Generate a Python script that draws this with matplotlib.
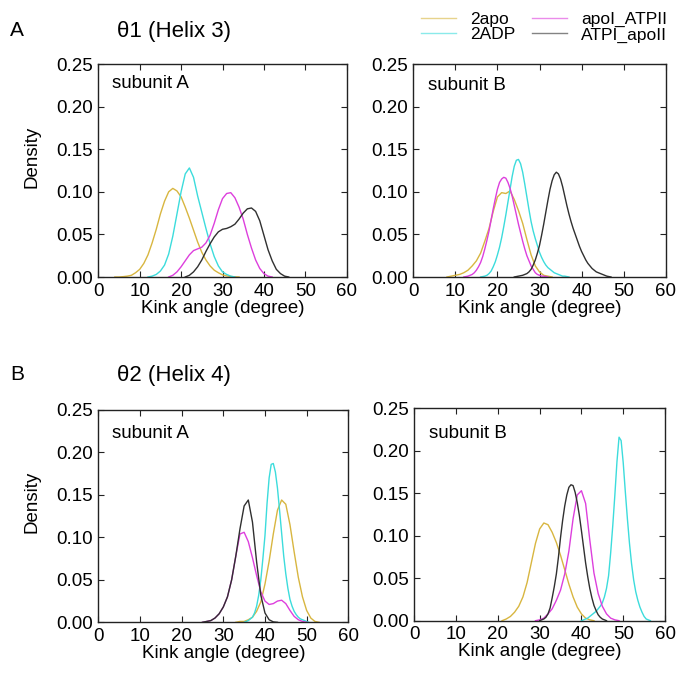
import numpy as np
import matplotlib
matplotlib.use("Agg")
import matplotlib.pyplot as plt
from matplotlib.lines import Line2D

plt.rcParams['font.family'] = ['Liberation Sans', 'DejaVu Sans']

# ---------------- data ----------------
series_names = ['2apo', '2ADP', 'apoI_ATPII', 'ATPI_apoII']
series_colors = ['#D8B640', '#3CDCDC', '#DD3FDD', '#303030']
x_ticks = [0, 10, 20, 30, 40, 50, 60]
y_ticks = [0.00, 0.05, 0.10, 0.15, 0.20, 0.25]
y_tick_labels = ['0.00', '0.05', '0.10', '0.15', '0.20', '0.25']
panel_labels = ['subunit A', 'subunit B', 'subunit A', 'subunit B']
row_letters = ['A', 'B']
row_titles = ['θ1 (Helix 3)', 'θ2 (Helix 4)']

# each curve: (start angle, step, density values)
# theta1, subunit A
tl_2apo = (4, 1, [0, 0, 0.0004, 0.001, 0.002, 0.005, 0.009, 0.016, 0.026, 0.040, 0.056,
                  0.074, 0.089, 0.100, 0.104, 0.101, 0.094, 0.082, 0.069, 0.055, 0.041,
                  0.029, 0.020, 0.013, 0.008, 0.005, 0.0025, 0.0013, 0.0006, 0.0002, 0])
tl_2adp = (12, 1, [0, 0.001, 0.003, 0.007, 0.014, 0.027, 0.048, 0.074, 0.100, 0.121, 0.128,
                   0.117, 0.095, 0.076, 0.057, 0.039, 0.024, 0.013, 0.006, 0.003, 0.001, 0])
tl_apoatp = (17, 1, [0, 0.002, 0.006, 0.012, 0.019, 0.026, 0.031, 0.033, 0.035, 0.040, 0.049,
                     0.063, 0.079, 0.092, 0.098, 0.099, 0.093, 0.082, 0.068, 0.050, 0.034,
                     0.020, 0.010, 0.004, 0.001, 0])
tl_atpapo = (21, 1, [0, 0.002, 0.006, 0.012, 0.020, 0.030, 0.039, 0.047, 0.053, 0.056, 0.057,
                     0.059, 0.062, 0.068, 0.075, 0.080, 0.081, 0.077, 0.066, 0.049, 0.032,
                     0.019, 0.009, 0.004, 0.001, 0])
# theta1, subunit B
tr_2apo = (8, 1, [0, 0.001, 0.002, 0.003, 0.005, 0.008, 0.013, 0.019, 0.028, 0.042, 0.057,
                  0.077, 0.094, 0.099, 0.098, 0.101, 0.091, 0.078, 0.063, 0.044, 0.026,
                  0.013, 0.006, 0.002, 0.001, 0])
tr_2adp = (16, 0.5, [0, 0.0005, 0.001, 0.002, 0.004, 0.007, 0.012, 0.018, 0.026, 0.035,
                     0.046, 0.059, 0.073, 0.088, 0.103, 0.118, 0.130, 0.137, 0.138, 0.133,
                     0.123, 0.109, 0.094, 0.079, 0.065, 0.054, 0.045, 0.037, 0.029, 0.023,
                     0.018, 0.014, 0.011, 0.009, 0.007, 0.005, 0.004, 0.003, 0.002, 0.001,
                     0.001, 0.0005, 0])
tr_apoatp = (12, 0.5, [0, 0.0005, 0.001, 0.002, 0.003, 0.005, 0.008, 0.012, 0.017, 0.024,
                       0.033, 0.043, 0.054, 0.067, 0.080, 0.092, 0.103, 0.111, 0.115, 0.117,
                       0.116, 0.111, 0.104, 0.095, 0.084, 0.073, 0.062, 0.052, 0.042, 0.033,
                       0.025, 0.019, 0.013, 0.009, 0.005, 0.003, 0.002, 0.001, 0.001, 0.0005,
                       0])
tr_atpapo = (24, 0.5, [0, 0.0005, 0.001, 0.0015, 0.002, 0.003, 0.004, 0.006, 0.009, 0.014,
                       0.020, 0.028, 0.037, 0.049, 0.062, 0.076, 0.090, 0.103, 0.113, 0.120,
                       0.123, 0.121, 0.115, 0.106, 0.095, 0.084, 0.074, 0.065, 0.057, 0.050,
                       0.043, 0.036, 0.030, 0.025, 0.020, 0.016, 0.013, 0.010, 0.008, 0.006,
                       0.005, 0.004, 0.003, 0.002, 0.001, 0.0005, 0])
# theta2, subunit A
bl_2apo = (33, 1, [0, 0.001, 0.001, 0.003, 0.006, 0.013, 0.024, 0.045, 0.072, 0.104, 0.132,
                   0.144, 0.139, 0.115, 0.083, 0.053, 0.030, 0.014, 0.005, 0.001, 0])
bl_2adp = (35, 0.5, [0, 0.001, 0.002, 0.004, 0.006, 0.011, 0.019, 0.032, 0.050, 0.075, 0.102,
                     0.140, 0.170, 0.186, 0.187, 0.177, 0.158, 0.132, 0.105, 0.078, 0.057,
                     0.040, 0.027, 0.019, 0.013, 0.009, 0.006, 0.004, 0.003, 0.002, 0.001, 0])
bl_apoatp = (25, 1, [0, 0.001, 0.002, 0.005, 0.010, 0.018, 0.030, 0.050, 0.078, 0.104, 0.106,
                     0.095, 0.076, 0.055, 0.036, 0.025, 0.021, 0.022, 0.025, 0.026, 0.022,
                     0.014, 0.007, 0.003, 0.001, 0])
bl_atpapo = (25, 1, [0, 0.001, 0.002, 0.005, 0.010, 0.018, 0.030, 0.050, 0.078, 0.110, 0.137,
                     0.144, 0.118, 0.071, 0.032, 0.011, 0.003, 0.0005, 0])
# theta2, subunit B
br_2apo = (21, 1, [0, 0.002, 0.005, 0.010, 0.017, 0.028, 0.045, 0.068, 0.091, 0.108, 0.115,
                   0.113, 0.104, 0.092, 0.077, 0.060, 0.043, 0.028, 0.016, 0.008, 0.003,
                   0.001, 0])
br_2adp = (40, 0.5, [0, 0.001, 0.002, 0.003, 0.005, 0.007, 0.009, 0.011, 0.014, 0.017, 0.021,
                     0.028, 0.038, 0.053, 0.080, 0.112, 0.148, 0.187, 0.216, 0.212, 0.186,
                     0.152, 0.120, 0.091, 0.067, 0.048, 0.034, 0.024, 0.016, 0.010, 0.005,
                     0.002, 0.001, 0])
br_apoatp = (29, 1, [0, 0.001, 0.003, 0.008, 0.014, 0.024, 0.036, 0.055, 0.082, 0.120, 0.148,
                     0.153, 0.138, 0.095, 0.056, 0.032, 0.017, 0.008, 0.003, 0.001, 0])
br_atpapo = (30, 0.5, [0, 0.001, 0.002, 0.004, 0.008, 0.015, 0.027, 0.040, 0.055, 0.075,
                       0.098, 0.118, 0.135, 0.148, 0.157, 0.160, 0.159, 0.151, 0.139, 0.124,
                       0.106, 0.087, 0.068, 0.052, 0.038, 0.027, 0.018, 0.012, 0.007, 0.004,
                       0.002, 0.001, 0])

panels = [
    [tl_2apo, tl_2adp, tl_apoatp, tl_atpapo],
    [tr_2apo, tr_2adp, tr_apoatp, tr_atpapo],
    [bl_2apo, bl_2adp, bl_apoatp, bl_atpapo],
    [br_2apo, br_2adp, br_apoatp, br_atpapo],
]

# ---------------- layout ----------------
W, H = 683, 675
fig = plt.figure(figsize=(W / 100, H / 100), dpi=100)

# (left, top, right, bottom) in pixels
boxes = [(98.3, 64, 346.7, 277), (413.3, 64, 665.7, 277),
         (98.3, 410, 348.3, 622.3), (414.3, 408.3, 665, 620.7)]
text_pos = [(0.054, 0.91), (0.059, 0.90), (0.054, 0.89), (0.059, 0.88)]

FS = 13.5
for i, (l, t, r, b) in enumerate(boxes):
    ax = fig.add_axes([l / W, 1 - b / H, (r - l) / W, (b - t) / H])
    for (x0, step, vals), col in zip(panels[i], series_colors):
        xs = x0 + step * np.arange(len(vals))
        ax.plot(xs, vals, color=col, lw=1.0, solid_joinstyle='round')
    ax.set_xlim(0, 60)
    ax.set_ylim(0, 0.25)
    ax.set_xticks(x_ticks)
    ax.set_xticklabels([str(v) for v in x_ticks])
    ax.set_yticks(y_ticks)
    ax.set_yticklabels(y_tick_labels)
    ax.tick_params(direction='in', top=True, right=True, length=4, width=0.8,
                   labelsize=FS, pad=4, color='#222222')
    for sp in ax.spines.values():
        sp.set_linewidth(1.0)
        sp.set_color('#222222')
    ax.set_xlabel('Kink angle (degree)', fontsize=FS, labelpad=0)
    if i % 2 == 0:
        ax.set_ylabel('Density', fontsize=FS)
        ax.yaxis.set_label_coords(-0.232, 0.565)
    tx, ty = text_pos[i]
    ax.text(tx, ty, panel_labels[i], transform=ax.transAxes, fontsize=FS,
            ha='left', va='center')

# row letters and titles
for j, yc in enumerate([31, 375]):
    fig.text(10 / W, 1 - yc / H, row_letters[j], fontsize=15, ha='left', va='center')
    fig.text(117 / W, 1 - yc / H, row_titles[j], fontsize=16, ha='left', va='center')

# legend
handles = [Line2D([], [], color=c, lw=1.0, alpha=0.6) for c in series_colors]
fig.legend(handles, series_names, ncol=2, loc='upper right',
           bbox_to_anchor=(667 / W, 1 - 12 / H), frameon=False, fontsize=12.5,
           handlelength=2.0, handletextpad=0.8, columnspacing=1.0,
           labelspacing=0.0, borderpad=0, borderaxespad=0)

fig.savefig('out.png', dpi=100)
